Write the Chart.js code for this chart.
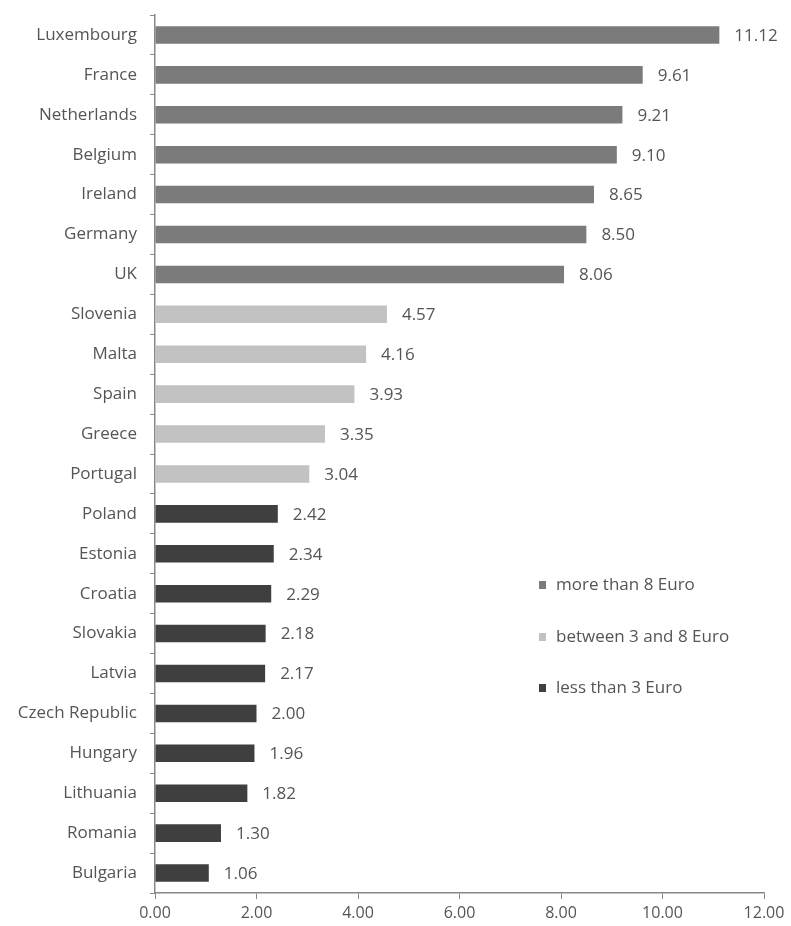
<!DOCTYPE html>
<html>
<head>
<meta charset="utf-8">
<script src="https://cdn.jsdelivr.net/npm/chart.js@4/dist/chart.umd.min.js"></script>
<style>
  html, body { margin: 0; padding: 0; background: #fff; }
  #wrap { width: 791px; height: 926px; }
</style>
</head>
<body>
<div id="wrap"><canvas id="myBarChart"></canvas></div>
<script>
var countries = ["Luxembourg", "France", "Netherlands", "Belgium", "Ireland", "Germany", "UK",
  "Slovenia", "Malta", "Spain", "Greece", "Portugal",
  "Poland", "Estonia", "Croatia", "Slovakia", "Latvia", "Czech Republic", "Hungary", "Lithuania", "Romania", "Bulgaria"];
var wages = [11.12, 9.61, 9.21, 9.10, 8.65, 8.50, 8.06,
  4.57, 4.16, 3.93, 3.35, 3.04,
  2.42, 2.34, 2.29, 2.18, 2.17, 2.00, 1.96, 1.82, 1.30, 1.06];
var xTicks = [0, 2, 4, 6, 8, 10, 12];
var legendLabels = ["more than 8 Euro", "between 3 and 8 Euro", "less than 3 Euro"];
var groupColors = ["#7b7b7b", "#c2c2c2", "#3f3f3f"];

var FONT = "'Open Sans', 'DejaVu Sans', sans-serif";
var TEXT = "#555";

// 구간별 막대 색상
function colorFor(v) {
  if (v > 8) return groupColors[0];
  if (v >= 3) return groupColors[1];
  return groupColors[2];
}

// 막대 끝 값 표시 + 범례
var valueLabels = {
  id: "valueLabels",
  afterDatasetsDraw: function (chart) {
    var ctx = chart.ctx;
    var meta = chart.getDatasetMeta(0);
    ctx.save();
    ctx.font = "17px " + FONT;
    ctx.fillStyle = TEXT;
    ctx.textAlign = "left";
    ctx.textBaseline = "middle";
    meta.data.forEach(function (bar, i) {
      ctx.fillText(wages[i].toFixed(2), bar.x + 15, bar.y + 1);
    });

    var ys = [585, 637, 688];
    legendLabels.forEach(function (txt, i) {
      ctx.fillStyle = groupColors[i];
      ctx.fillRect(539, ys[i] - 4, 7, 8);
      ctx.fillStyle = TEXT;
      ctx.fillText(txt, 556, ys[i]);
    });
    ctx.restore();
  }
};

var ctx = document.getElementById("myBarChart").getContext("2d");

var myBarChart = new Chart(ctx, {
  type: "bar",
  data: {
    labels: countries,
    datasets: [
      {
        data: wages,
        backgroundColor: wages.map(colorFor),
        barPercentage: 0.44,
        categoryPercentage: 1,
      },
    ],
  },
  options: {
    indexAxis: "y",
    animation: false,
    responsive: true,
    maintainAspectRatio: false,
    layout: { padding: { top: 15, right: 27, left: 0, bottom: 0 } },
    plugins: {
      legend: { display: false },
      tooltip: { enabled: false },
    },
    scales: {
      x: {
        type: "linear",
        min: 0,
        max: 12,
        afterBuildTicks: function (scale) {
          scale.ticks = xTicks.map(function (v) { return { value: v }; });
        },
        afterFit: function (scale) { scale.height = 33; },
        grid: {
          drawOnChartArea: false,
          drawTicks: true,
          tickLength: 6,
          color: "#888",
        },
        border: { color: "#888", width: 1.5 },
        ticks: {
          padding: 5,
          color: TEXT,
          font: { family: FONT, size: 16 },
          callback: function (v) { return Number(v).toFixed(2); },
        },
      },
      y: {
        afterFit: function (scale) {
          scale.width = 155;
          scale.paddingTop = 0;
          scale.paddingBottom = 0;
        },
        grid: {
          offset: true,
          drawOnChartArea: false,
          tickLength: 5,
          color: "#888",
        },
        border: { color: "#888", width: 1.5 },
        ticks: {
          padding: 13,
          color: TEXT,
          font: { family: FONT, size: 17 },
        },
      },
    },
  },
  plugins: [valueLabels],
});
</script>
</body>
</html>
